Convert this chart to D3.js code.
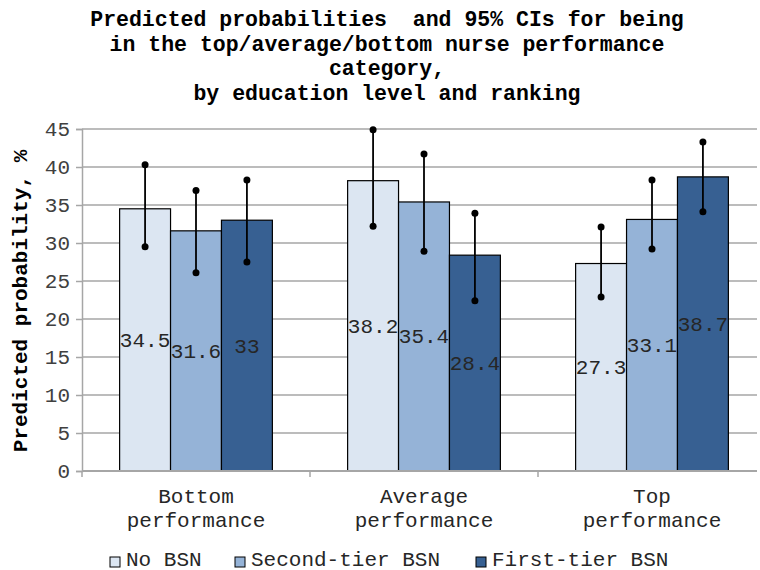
<!DOCTYPE html>
<html><head><meta charset="utf-8">
<script src="https://cdn.jsdelivr.net/npm/d3@7"></script>
<style>body{margin:0;background:#fff}svg{display:block}svg text{font-family:'Liberation Mono','Courier New','DejaVu Sans Mono',monospace !important}</style>
</head><body><svg id="c" width="760" height="570" font-family="'Liberation Mono','Courier New','DejaVu Sans Mono',monospace"></svg>
<script>
const categories = ["Bottom performance", "Average performance", "Top performance"];
const categoryLines = [["Bottom","performance"],["Average","performance"],["Top","performance"]];
const series = ["No BSN", "Second-tier BSN", "First-tier BSN"];
const values = [[34.5, 31.6, 33], [38.2, 35.4, 28.4], [27.3, 33.1, 38.7]];
const ciLow  = [[29.5, 26.1, 27.5], [32.2, 28.9, 22.4], [22.9, 29.2, 34.1]];
const ciHigh = [[40.3, 36.9, 38.3], [44.9, 41.7, 33.9], [32.1, 38.3, 43.3]];
const yTicks = [0,5,10,15,20,25,30,35,40,45];
const colors = ["#dce6f2", "#95b3d7", "#376092"];
const titleLines = ["Predicted probabilities  and 95% CIs for being","in the top/average/bottom nurse performance","category,","by education level and ranking"];

const svg = d3.select("#c");
const L = 82, R = 766, T = 129, B = 471;
const y = d3.scaleLinear().domain([0,45]).range([B,T]);
const x0 = d3.scaleBand().domain(categories).range([L,R]).padding(0);
const bw = x0.bandwidth();
const x1 = d3.scaleBand().domain(series).range([bw*0.165, bw*0.835]).padding(0);

// title
svg.append("g").selectAll("text").data(titleLines).join("text")
  .attr("x",387).attr("y",(d,i)=>26+i*24.5).attr("text-anchor","middle")
  .attr("font-size",21.5).attr("font-weight","bold").attr("fill","#000").style("white-space","pre").text(d=>d);

// gridlines
svg.append("g").selectAll("line").data(yTicks.slice(1)).join("line")
  .attr("x1",L).attr("x2",757).attr("y1",d=>y(d)).attr("y2",d=>y(d))
  .attr("stroke","#a6a6a6").attr("stroke-width",1.5);

// y axis
const ya = svg.append("g").attr("transform",`translate(${L},0)`)
  .call(d3.axisLeft(y).tickValues(yTicks).tickSize(6).tickPadding(6));
ya.attr("font-family",null);
ya.select(".domain").attr("stroke","#a6a6a6").attr("stroke-width",1.5);
ya.selectAll(".tick line").attr("stroke","#a6a6a6").attr("stroke-width",1.5);
ya.selectAll(".tick text").attr("font-size",21).attr("fill","#404040");

svg.append("text").attr("transform",`translate(27,${(T+B)/2+1}) rotate(-90)`)
  .attr("text-anchor","middle").attr("font-size",21).attr("font-weight","bold").text("Predicted probability, %");

// bars
const groups = svg.append("g").selectAll("g").data(categories).join("g")
  .attr("transform",d=>`translate(${x0(d)},0)`);
groups.each(function(cat,ci){
  const g = d3.select(this);
  series.forEach((s,si)=>{
    const v = values[ci][si];
    g.append("rect").attr("x",x1(s)).attr("width",x1.bandwidth()).attr("y",y(v)).attr("height",B-y(v))
      .attr("fill",colors[si]).attr("stroke","#000").attr("stroke-width",1.2);
  });
  series.forEach((s,si)=>{
    const v = values[ci][si];
    g.append("text").attr("x",x1(s)+x1.bandwidth()/2).attr("y",(y(v)+B)/2+7)
      .attr("text-anchor","middle").attr("font-size",21).attr("fill","#262626").text(v);
  });
  series.forEach((s,si)=>{
    const cx = x1(s)+x1.bandwidth()/2;
    g.append("line").attr("x1",cx).attr("x2",cx).attr("y1",y(ciLow[ci][si])).attr("y2",y(ciHigh[ci][si]))
      .attr("stroke","#000").attr("stroke-width",1.8);
    [ciLow[ci][si],ciHigh[ci][si]].forEach(v=>{
      g.append("circle").attr("cx",cx).attr("cy",y(v)).attr("r",3.5).attr("fill","#000");
    });
  });
});

// x axis
svg.append("line").attr("x1",L).attr("x2",757).attr("y1",B).attr("y2",B).attr("stroke","#a6a6a6").attr("stroke-width",2);
svg.append("g").selectAll("line").data(categories).join("line")
  .attr("x1",d=>x0(d)).attr("x2",d=>x0(d)).attr("y1",B).attr("y2",B+6).attr("stroke","#a6a6a6").attr("stroke-width",1.5);
svg.append("g").selectAll("text").data(categories).join("text")
  .attr("x",d=>x0(d)+bw/2).attr("y",503).attr("text-anchor","middle").attr("font-size",21).attr("fill","#262626")
  .each(function(d,i){
    const t = d3.select(this);
    categoryLines[i].forEach((ln,j)=>t.append("tspan").attr("x",x0(d)+bw/2).attr("dy",j?24:0).text(ln));
  });

// legend
const legX = [110, 235, 476];
const leg = svg.append("g").selectAll("g").data(series).join("g")
  .attr("transform",(d,i)=>`translate(${legX[i]},557)`);
leg.append("rect").attr("x",0).attr("y",0).attr("width",10).attr("height",10)
  .attr("fill",(d,i)=>colors[i]).attr("stroke","#000").attr("stroke-width",1);
leg.append("text").attr("x",16).attr("y",8.5).attr("font-size",21).attr("fill","#262626").text(d=>d);
</script></body></html>
